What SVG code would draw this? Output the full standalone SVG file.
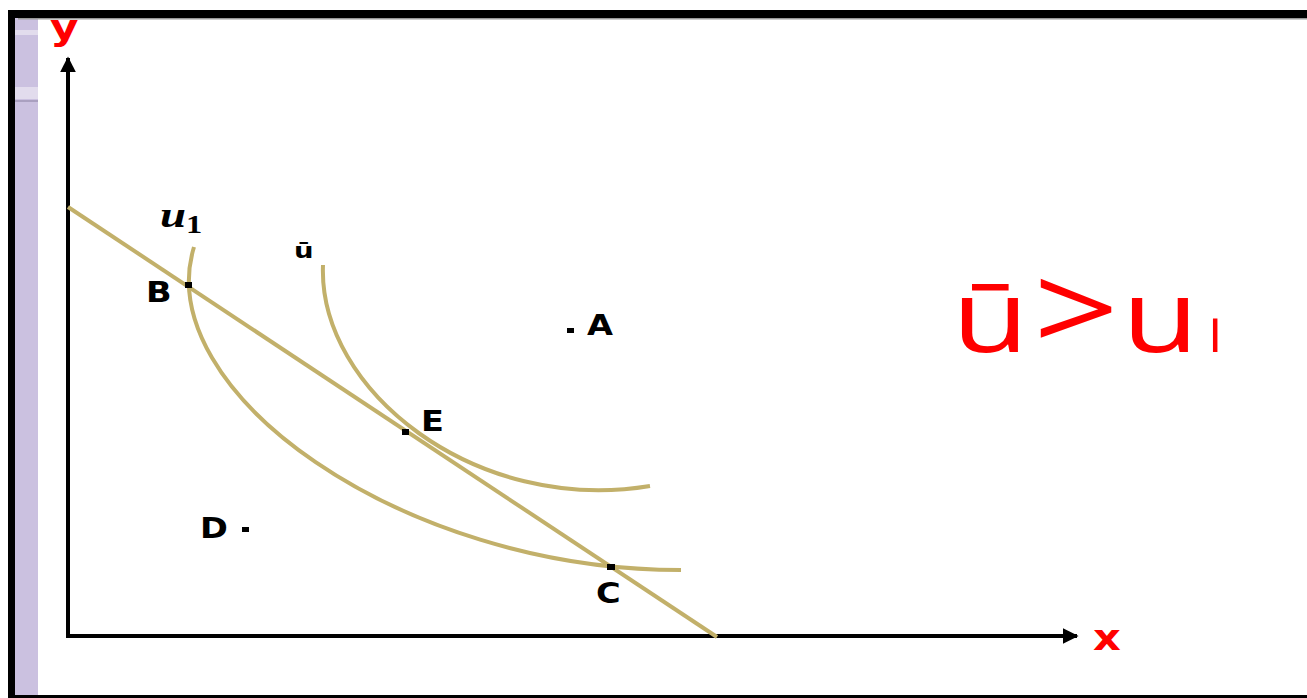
<svg xmlns="http://www.w3.org/2000/svg" width="1307" height="698" viewBox="0 0 1307 698">
<defs>
<style>
.axis{stroke:#000;stroke-width:4;fill:none}
.curve{stroke:#c2b06a;stroke-width:4;fill:none;stroke-linecap:butt}
.lbl{font-family:"DejaVu Sans",sans-serif;font-weight:bold;font-size:28px;fill:#000}
.red{font-family:"DejaVu Sans",sans-serif;font-weight:bold;fill:#ff0000}
.dot{fill:#000}
</style>
<marker id="ah" viewBox="0 0 10 10" refX="9" refY="5" markerWidth="4" markerHeight="4" orient="auto" markerUnits="strokeWidth">
<path d="M0,0 L10,5 L0,10 z" fill="#000"/>
</marker>
</defs>
<rect x="0" y="0" width="1307" height="698" fill="#fff"/>
<g id="frame">
<rect x="15" y="18" width="23" height="680" fill="#cbc1e0"/>
<rect x="15" y="30" width="23" height="5" fill="#e2dced"/>
<rect x="15" y="87" width="23" height="12" fill="#e2dced"/>
<rect x="15" y="100" width="23" height="2" fill="#aaa0c0"/>
<rect x="8" y="10" width="1299" height="8" fill="#000"/>
<rect x="18" y="18" width="1289" height="1.5" fill="#999"/>
<rect x="8" y="10" width="7" height="688" fill="#000"/>
<rect x="8" y="695" width="1299" height="3" fill="#000"/>
</g>
<g id="axes">
<line class="axis" x1="68" y1="638" x2="68" y2="58" marker-end="url(#ah)"/>
<line class="axis" x1="66" y1="636" x2="1077" y2="636" marker-end="url(#ah)"/>
<text class="red" transform="translate(50,40) scale(1.25,1)" x="0" y="0" font-size="35">y</text>
<text class="red" transform="translate(1093,650) scale(1.2,1)" x="0" y="0" font-size="36">x</text>
</g>
<g id="connectors">
<line id="budget" class="curve" x1="68" y1="207" x2="717" y2="637"/>
<path id="u1curve" class="curve" d="M194,247 C150,390 400,570 681,570"/>
<path id="ubarcurve" class="curve" d="M323,265 C318,390 475,515 650,486"/>
</g>
<g id="node-B"><rect class="dot" x="185" y="282" width="7" height="6"/><text class="lbl" transform="translate(146,302) scale(1.2,1)">B</text></g>
<g id="node-A"><rect class="dot" x="567" y="328" width="7" height="5"/><text class="lbl" transform="translate(587,335) scale(1.2,1)">A</text></g>
<g id="node-E"><rect class="dot" x="402" y="429" width="7" height="6"/><text class="lbl" transform="translate(421,431) scale(1.2,1)">E</text></g>
<g id="node-D"><rect class="dot" x="242" y="527" width="7" height="5"/><text class="lbl" transform="translate(200,538) scale(1.2,1)">D</text></g>
<g id="node-C"><rect class="dot" x="607" y="564" width="8" height="6"/><text class="lbl" transform="translate(596,603) scale(1.2,1)">C</text></g>
<g id="label-u1"><text transform="translate(160,227) scale(1.3,1)" font-family="Liberation Serif,serif" font-weight="bold" font-style="italic" font-size="36" fill="#000">u<tspan font-size="25" font-style="normal" dy="6">1</tspan></text></g>
<g id="label-ubar"><text transform="translate(294,258) scale(1.25,1)" font-family="DejaVu Sans,sans-serif" font-weight="bold" font-size="22" fill="#000">ū</text></g>
<g id="inequality"><text transform="translate(962,352) scale(1.25,1)" font-family="Open Sans,sans-serif" font-size="100" fill="#ff0000"><tspan x="-8">ū</tspan><tspan x="57" font-size="120">&gt;</tspan><tspan x="128">u</tspan><tspan x="197" font-size="44">l</tspan></text></g>
</svg>
